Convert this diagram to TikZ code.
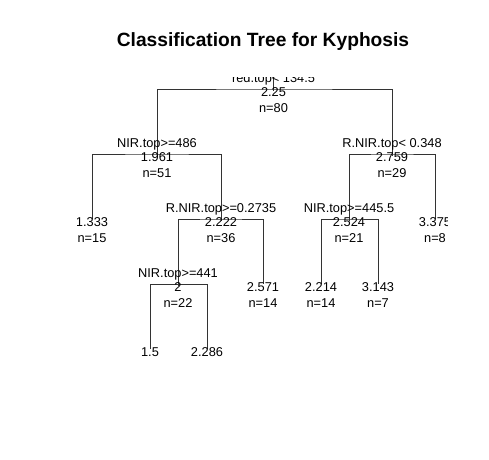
\documentclass[tikz,border=0pt]{standalone}
\usepackage{fontspec}
\setmainfont{Liberation Sans}
\begin{document}
\begin{tikzpicture}[x=1pt, y=-1pt,
  lbl/.style={font=\fontsize{12.8}{14}\selectfont, anchor=base, inner sep=0pt},
  splitlbl/.style={lbl, yshift=6.5pt},
  vallbl/.style={lbl, yshift=-7.5pt},
  nlbl/.style={lbl, yshift=-23pt},
  branch/.style={black!80, line width=0.9pt}]
\useasboundingbox (0,0) rectangle (489,459);

% title
\node[font=\fontsize{19.2}{22}\selectfont\bfseries, anchor=base] (title) at (263,46.7) {Classification Tree for Kyphosis};

% tree node positions
\coordinate (root) at (273.5,89);
\coordinate (nA) at (157,154);
\coordinate (nB) at (392,154);
\coordinate (nA1) at (92,219);
\coordinate (nA2) at (221,219);
\coordinate (nA2a) at (178,284);
\coordinate (nA2b) at (263,284);
\coordinate (nA2a1) at (150,349);
\coordinate (nA2a2) at (207,349);
\coordinate (nB1) at (349,219);
\coordinate (nB2) at (435,219);
\coordinate (nB1a) at (321,284);
\coordinate (nB1b) at (378,284);

\begin{scope}
\clip (77.5,77) rectangle (447.5,361);

% branches
\draw[branch] (root) ++(0,-15) -- ++(0,17);
\draw[branch] (nA) |- (root) -| (nB);
\draw[branch] (nA1) |- (nA) -| (nA2);
\draw[branch] (nB1) |- (nB) -| (nB2);
\draw[branch] (nA2a) |- (nA2) -| (nA2b);
\draw[branch] (nA2a1) |- (nA2a) -| (nA2a2);
\draw[branch] (nB1a) |- (nB1) -| (nB1b);
\draw[branch] (nA) -- ++(0,2);
\draw[branch] (nB) -- ++(0,2);
\draw[branch] (nA2) -- ++(0,2);
\draw[branch] (nA2a) -- ++(0,2);
\draw[branch] (nB1) -- ++(0,2);

% root
\node[splitlbl] (rootS) at (root) {red.top< 134.5};
\node[vallbl] (rootV) at (root) {2.25};
\node[nlbl] (rootN) at (root) {n=80};

% left side
\node[splitlbl] (nAS) at (nA) {NIR.top>=486};
\node[vallbl] (nAV) at (nA) {1.961};
\node[nlbl] (nAN) at (nA) {n=51};
\node[vallbl] (nA1V) at (nA1) {1.333};
\node[nlbl] (nA1N) at (nA1) {n=15};
\node[splitlbl] (nA2S) at (nA2) {R.NIR.top>=0.2735};
\node[vallbl] (nA2V) at (nA2) {2.222};
\node[nlbl] (nA2N) at (nA2) {n=36};
\node[splitlbl] (nA2aS) at (nA2a) {NIR.top>=441};
\node[vallbl] (nA2aV) at (nA2a) {2};
\node[nlbl] (nA2aN) at (nA2a) {n=22};
\node[vallbl] (nA2bV) at (nA2b) {2.571};
\node[nlbl] (nA2bN) at (nA2b) {n=14};
\node[vallbl] (nA2a1V) at (nA2a1) {1.5};
\node[vallbl] (nA2a2V) at (nA2a2) {2.286};

% right side
\node[splitlbl] (nBS) at (nB) {R.NIR.top< 0.348};
\node[vallbl] (nBV) at (nB) {2.759};
\node[nlbl] (nBN) at (nB) {n=29};
\node[splitlbl] (nB1S) at (nB1) {NIR.top>=445.5};
\node[vallbl] (nB1V) at (nB1) {2.524};
\node[nlbl] (nB1N) at (nB1) {n=21};
\node[vallbl] (nB2V) at (nB2) {3.375};
\node[nlbl] (nB2N) at (nB2) {n=8};
\node[vallbl] (nB1aV) at (nB1a) {2.214};
\node[nlbl] (nB1aN) at (nB1a) {n=14};
\node[vallbl] (nB1bV) at (nB1b) {3.143};
\node[nlbl] (nB1bN) at (nB1b) {n=7};
\end{scope}
\end{tikzpicture}
\end{document}
